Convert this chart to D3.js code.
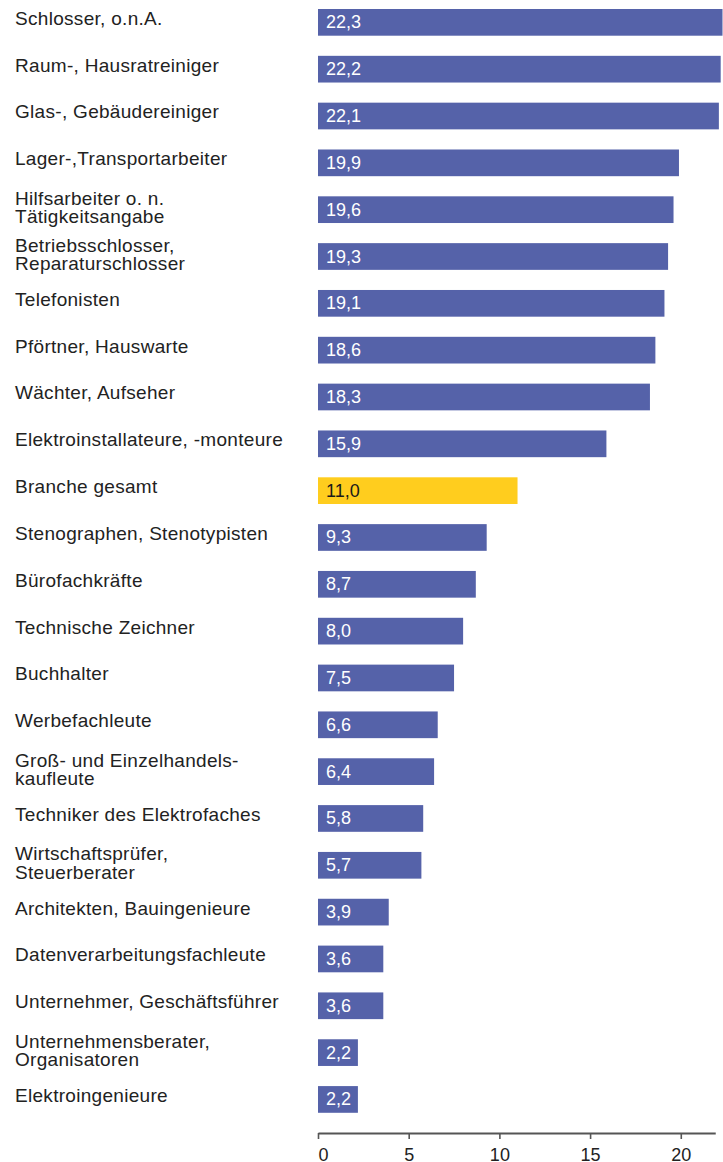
<!DOCTYPE html>
<html>
<head>
<meta charset="utf-8">
<script src="https://cdn.jsdelivr.net/npm/d3@7"></script>
<style>
  html, body { margin: 0; padding: 0; background: #fff; }
  svg { display: block; }
  text { font-family: "Liberation Sans", Arial, Helvetica, sans-serif; }
</style>
</head>
<body>
<svg id="chart" width="723" height="1162"></svg>
<script>
// Occupational groups (label lines) and their values
const categories = [
  ["Schlosser, o.n.A."],
  ["Raum-, Hausratreiniger"],
  ["Glas-, Gebäudereiniger"],
  ["Lager-,Transportarbeiter"],
  ["Hilfsarbeiter o. n.", "Tätigkeitsangabe"],
  ["Betriebsschlosser,", "Reparaturschlosser"],
  ["Telefonisten"],
  ["Pförtner, Hauswarte"],
  ["Wächter, Aufseher"],
  ["Elektroinstallateure, -monteure"],
  ["Branche gesamt"],
  ["Stenographen, Stenotypisten"],
  ["Bürofachkräfte"],
  ["Technische Zeichner"],
  ["Buchhalter"],
  ["Werbefachleute"],
  ["Groß- und Einzelhandels-", "kaufleute"],
  ["Techniker des Elektrofaches"],
  ["Wirtschaftsprüfer,", "Steuerberater"],
  ["Architekten, Bauingenieure"],
  ["Datenverarbeitungsfachleute"],
  ["Unternehmer, Geschäftsführer"],
  ["Unternehmensberater,", "Organisatoren"],
  ["Elektroingenieure"]
];
const values = [22.3, 22.2, 22.1, 19.9, 19.6, 19.3, 19.1, 18.6, 18.3, 15.9, 11.0,
                9.3, 8.7, 8.0, 7.5, 6.6, 6.4, 5.8, 5.7, 3.9, 3.6, 3.6, 2.2, 2.2];
const highlight = "Branche gesamt";
const tickValues = [0, 5, 10, 15, 20];

const data = categories.map((lines, i) => ({ lines, key: lines.join(" "), value: values[i] }));

const svg = d3.select("#chart");
const blue = "#5562a9", yellow = "#ffcd1e";

const x = d3.scaleLinear().domain([0, 22.3]).range([318, 722.5]);

// one row per category: 26.7 px bar inside a 46.83 px step
const step = 46.83, barH = 26.7, top0 = 9;
const y = d3.scaleOrdinal()
  .domain(data.map(d => d.key))
  .range(data.map((d, i) => top0 + i * step));

const fmt = v => d3.format(".1f")(v).replace(".", ",");

const rows = svg.append("g").selectAll("g.row")
  .data(data)
  .join("g")
  .attr("class", "row");

rows.append("rect")
  .attr("x", x(0))
  .attr("y", d => y(d.key))
  .attr("width", d => x(d.value) - x(0))
  .attr("height", barH)
  .attr("fill", d => d.key === highlight ? yellow : blue);

rows.append("text")
  .attr("x", x(0) + 8)
  .attr("y", d => y(d.key) + barH / 2 + 6)
  .attr("font-size", 18)
  .attr("fill", d => d.key === highlight ? "#1a1a1a" : "#ffffff")
  .text(d => fmt(d.value));

// category labels, one or two lines
rows.each(function (d) {
  const c = y(d.key) + barH / 2;
  const t = d3.select(this).append("text")
    .attr("x", 15)
    .attr("font-size", 19)
    .attr("letter-spacing", 0.3)
    .attr("fill", "#222");
  if (d.lines.length === 1) {
    t.append("tspan").attr("x", 15).attr("y", c + 2.4).text(d.lines[0]);
  } else {
    t.append("tspan").attr("x", 15).attr("y", c - 5).text(d.lines[0]);
    t.append("tspan").attr("x", 15).attr("y", c + 13.3).text(d.lines[1]);
  }
});

// bottom axis
const axisScale = x.copy().domain([0, 21.9]).range([x(0), x(21.9)]);
const axis = svg.append("g")
  .attr("transform", "translate(0,1133)")
  .call(d3.axisBottom(axisScale).tickValues(tickValues).tickSize(6).tickSizeOuter(0).tickPadding(9)
    .tickFormat(d => d));
axis.select(".domain").attr("stroke", "#555").attr("stroke-width", 1.8);
axis.selectAll(".tick line").attr("stroke", "#555").attr("stroke-width", 1.6);
axis.selectAll(".tick text")
  .attr("font-size", 18)
  .attr("font-family", "Liberation Sans, Arial, sans-serif")
  .attr("fill", "#222")
  .attr("text-anchor", d => d === 0 ? "start" : "middle");
</script>
</body>
</html>
